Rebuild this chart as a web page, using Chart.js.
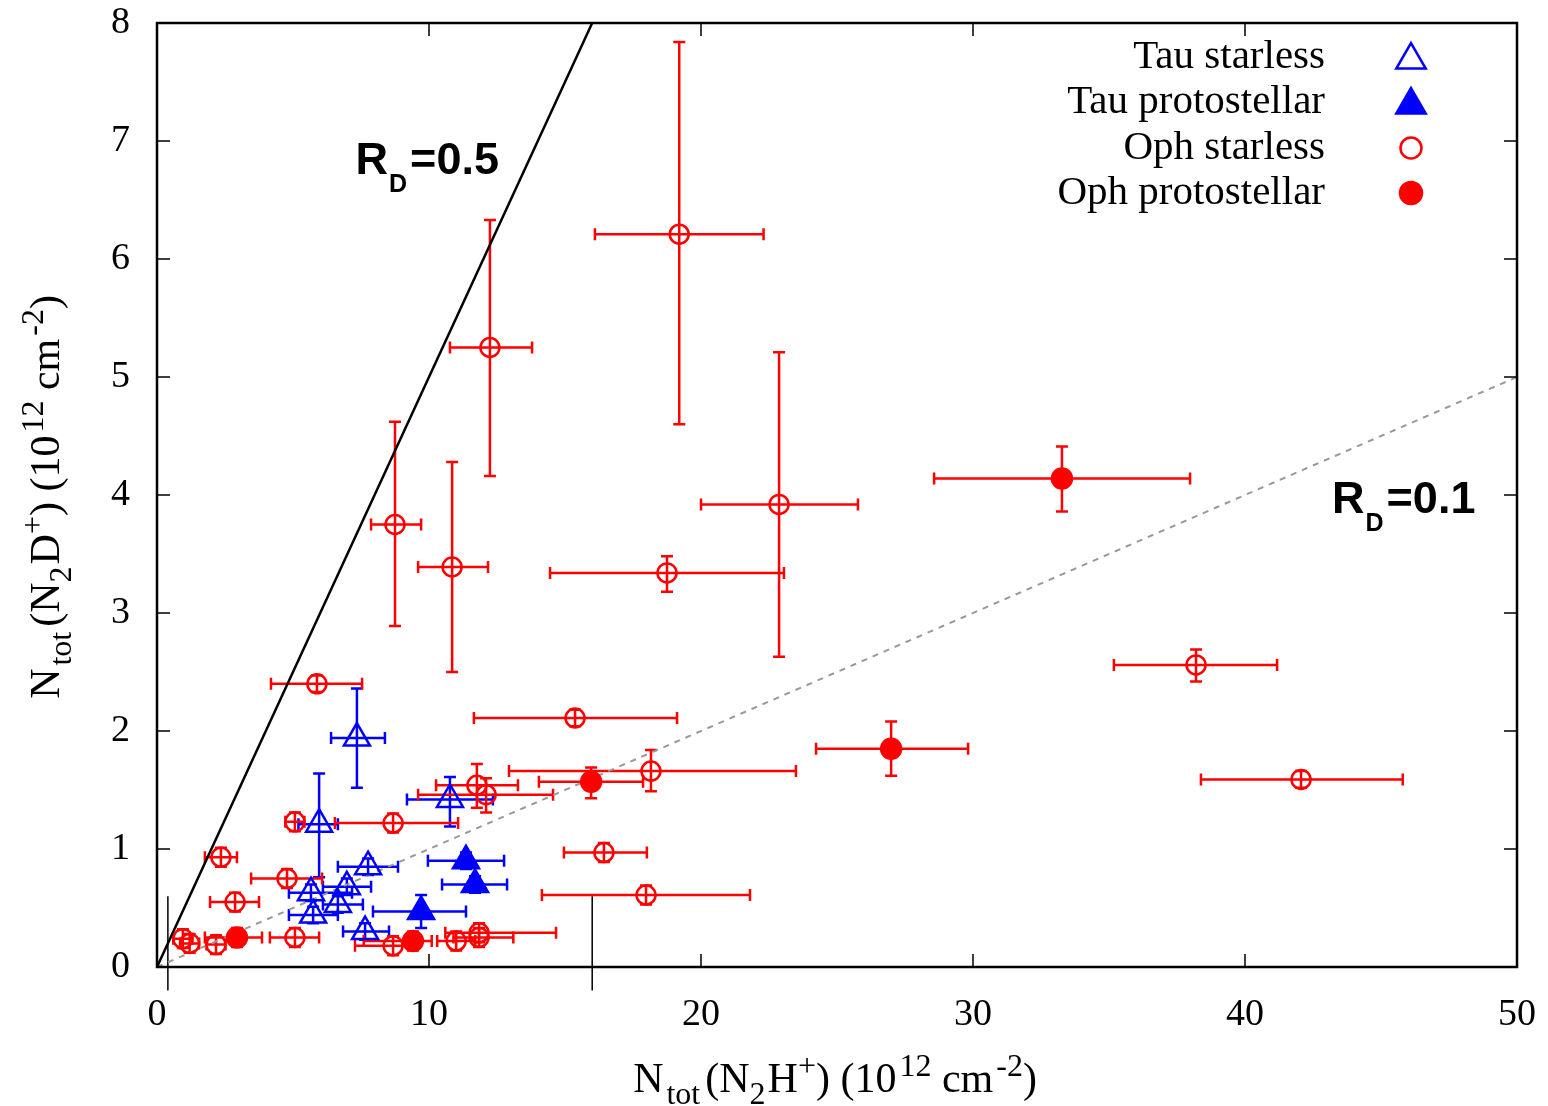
<!DOCTYPE html>
<html>
<head>
<meta charset="utf-8">
<script src="https://cdn.jsdelivr.net/npm/chart.js@4.4.0/dist/chart.umd.min.js"></script>
<style>
  html, body { margin: 0; background: #fff; }
</style>
</head>
<body>
<canvas id="chart" width="1548" height="1106"></canvas>
<script>
// rows: [x, y, xLow, xHigh, yLow, yHigh]  (10^12 cm^-2)
const tauStarless = [
  [7.35, 1.94, 6.4, 8.38, 1.52, 2.36],
  [5.96, 1.21, 5.2, 6.65, 0.76, 1.64],
  [10.77, 1.42, 9.19, 12.35, 1.19, 1.61],
  [7.76, 0.85, 6.65, 8.86, 0.78, 0.92],
  [6.98, 0.68, 6.1, 7.87, 0.61, 0.75],
  [5.66, 0.63, 4.85, 7.17, 0.56, 0.70],
  [6.65, 0.53, 6.1, 7.57, 0.46, 0.60],
  [5.74, 0.44, 4.85, 6.65, 0.37, 0.51],
  [7.65, 0.30, 6.84, 8.53, 0.23, 0.37]
];
const tauProto = [
  [11.36, 0.90, 9.96, 12.76, 0.83, 0.97],
  [11.69, 0.70, 10.48, 12.87, 0.63, 0.77],
  [9.71, 0.47, 7.94, 11.36, 0.33, 0.61]
];
const ophStarless = [
  [19.2, 6.21, 16.1, 22.3, 4.60, 7.84],
  [12.24, 5.25, 10.77, 13.79, 4.16, 6.33],
  [8.75, 3.75, 7.87, 9.71, 2.89, 4.62],
  [10.85, 3.39, 9.6, 12.17, 2.50, 4.28],
  [22.87, 3.92, 20.0, 25.77, 2.63, 5.21],
  [18.75, 3.34, 14.45, 23.05, 3.18, 3.48],
  [38.2, 2.56, 35.18, 41.18, 2.42, 2.69],
  [42.06, 1.59, 38.38, 45.8, 1.52, 1.66],
  [15.37, 2.11, 11.65, 19.12, 2.04, 2.18],
  [5.88, 2.40, 4.19, 7.54, 2.33, 2.47],
  [18.16, 1.66, 12.94, 23.49, 1.49, 1.84],
  [11.76, 1.54, 10.26, 13.27, 1.35, 1.72],
  [12.1, 1.46, 9.6, 14.56, 1.31, 1.60],
  [5.07, 1.23, 4.72, 5.42, 1.15, 1.31],
  [8.68, 1.22, 6.54, 11.07, 1.14, 1.30],
  [2.35, 0.93, 1.76, 2.94, 0.85, 1.01],
  [4.78, 0.75, 3.46, 6.07, 0.67, 0.83],
  [2.87, 0.55, 1.95, 3.75, 0.47, 0.63],
  [16.43, 0.97, 14.96, 18.01, 0.89, 1.05],
  [17.98, 0.61, 14.15, 21.8, 0.53, 0.69],
  [0.95, 0.24, 0.6, 1.3, 0.16, 0.32],
  [1.2, 0.20, 0.85, 1.55, 0.12, 0.28],
  [2.17, 0.19, 1.82, 2.52, 0.11, 0.27],
  [5.07, 0.25, 4.15, 5.96, 0.17, 0.33],
  [8.68, 0.18, 7.28, 9.5, 0.10, 0.26],
  [11.0, 0.22, 10.3, 11.7, 0.14, 0.30],
  [11.84, 0.29, 10.6, 14.67, 0.21, 0.37],
  [11.84, 0.25, 10.9, 13.1, 0.17, 0.33]
];
const ophProto = [
  [33.27, 4.14, 28.57, 37.98, 3.86, 4.41],
  [26.99, 1.85, 24.23, 29.82, 1.62, 2.08],
  [15.96, 1.57, 14.04, 17.87, 1.43, 1.69],
  [2.94, 0.25, 1.76, 3.86, 0.17, 0.33],
  [9.41, 0.22, 7.6, 10.1, 0.14, 0.30]
];

// R_D = N(N2D+)/N(N2H+) reference lines and where their labels sit
const ratioLines = [0.5, 0.1];
const ratioLabels = ['0.5', '0.1'];
const ratioLabelX = [7.3, 43.2];
const ratioLabelY = [6.72, 3.85];

// two short vertical strokes seen in the original
const strayX = [0.4, 16];
const strayY = [0.6, -0.2];

const xMax = 50, yMax = 8;
const xTicks = [0, 10, 20, 30, 40, 50];
const yTicks = [0, 1, 2, 3, 4, 5, 6, 7, 8];

const RED = '#ff0000', BLUE = '#0000ff';
const SERIF = '"Liberation Serif", "DejaVu Serif", serif';
const SANS = '"Liberation Sans", Arial, sans-serif';

function pts(rows){
  return rows.map(r => ({ x:r[0], y:r[1], xlo:r[2], xhi:r[3], ylo:r[4], yhi:r[5] }));
}

const series = [
  { label:'Tau starless', rows:tauStarless, color:BLUE, style:'triangle', filled:false, r:15, lr:17 },
  { label:'Tau protostellar', rows:tauProto, color:BLUE, style:'triangle', filled:true, r:15, lr:17 },
  { label:'Oph starless', rows:ophStarless, color:RED, style:'circle', filled:false, r:9.5, lr:10.5 },
  { label:'Oph protostellar', rows:ophProto, color:RED, style:'circle', filled:true, r:10, lr:11 }
];

const datasets = series.map((s, i) => ({
  label: s.label,
  data: pts(s.rows),
  pointStyle: s.style,
  pointRadius: s.r,
  pointBorderWidth: 2.5,
  borderColor: s.color,
  backgroundColor: s.filled ? s.color : 'rgba(0,0,0,0)',
  errColor: s.color,
  order: 4 - i
}));

ratioLines.forEach((rd, i) => {
  const xEnd = Math.min(xMax, yMax / rd);
  datasets.push({
    label: 'R_D=' + rd,
    data: [{ x:0, y:0 }, { x:xEnd, y:xEnd * rd }],
    showLine: true,
    pointRadius: 0,
    borderColor: i === 0 ? '#000' : '#999',
    borderWidth: i === 0 ? 2.5 : 2,
    borderDash: i === 0 ? [] : [6, 6],
    order: 10
  });
});

strayX.forEach(sx => {
  datasets.push({
    label: 'stray',
    data: [{ x:sx, y:strayY[0] }, { x:sx, y:strayY[1] }],
    showLine: true,
    pointRadius: 0,
    borderColor: '#000',
    borderWidth: 1.5,
    clip: false,
    order: 11
  });
});

// parts: [text, scale, shift (em, + is down), gap after (px)]
function drawRich(ctx, parts, x, y, size, family, weight, align){
  const fontFor = p => `${weight} ${Math.round(size * p[1])}px ${family}`;
  let total = 0;
  parts.forEach(p => { ctx.font = fontFor(p); total += ctx.measureText(p[0]).width + (p[3] || 0); });
  let cx = align === 'center' ? x - total / 2 : (align === 'right' ? x - total : x);
  ctx.textAlign = 'left';
  ctx.textBaseline = 'alphabetic';
  parts.forEach(p => {
    ctx.font = fontFor(p);
    ctx.fillText(p[0], cx, y + p[2] * size);
    cx += ctx.measureText(p[0]).width + (p[3] || 0);
  });
}

function titleParts(mid){
  return [
    ['N', 1, 0, 3], ['tot', 0.75, 0.28, 5], ['(N', 1, 0, 0], ['2', 0.75, 0.28, 2], [mid, 1, 0, 0],
    ['+', 0.75, -0.38, 0], [') (10', 1, 0, 3], ['12', 0.75, -0.38, 0], [' cm', 1, 0, 3],
    ['-2', 0.75, -0.38, 0], [')', 1, 0, 0]
  ];
}

const errorBars = {
  id: 'errorBars',
  beforeDatasetsDraw(chart){
    const { ctx, scales:{ x, y } } = chart;
    const cap = 6;
    ctx.save();
    ctx.lineWidth = 2.5;
    chart.data.datasets.forEach(ds => {
      if (!ds.errColor) return;
      ctx.strokeStyle = ds.errColor;
      ds.data.forEach(p => {
        const px = x.getPixelForValue(p.x), py = y.getPixelForValue(p.y);
        const x1 = x.getPixelForValue(p.xlo), x2 = x.getPixelForValue(p.xhi);
        const y1 = y.getPixelForValue(p.ylo), y2 = y.getPixelForValue(p.yhi);
        ctx.beginPath();
        ctx.moveTo(x1, py); ctx.lineTo(x2, py);
        ctx.moveTo(x1, py - cap); ctx.lineTo(x1, py + cap);
        ctx.moveTo(x2, py - cap); ctx.lineTo(x2, py + cap);
        ctx.moveTo(px, y1); ctx.lineTo(px, y2);
        ctx.moveTo(px - cap, y1); ctx.lineTo(px + cap, y1);
        ctx.moveTo(px - cap, y2); ctx.lineTo(px + cap, y2);
        ctx.stroke();
      });
    });
    ctx.restore();
  }
};

const decor = {
  id: 'decor',
  afterDraw(chart){
    const { ctx, chartArea:a, scales:{ x, y } } = chart;
    ctx.save();
    // inward ticks on all four sides
    ctx.strokeStyle = '#000';
    ctx.lineWidth = 1.5;
    const tl = 13;
    xTicks.forEach(v => {
      const px = x.getPixelForValue(v);
      ctx.beginPath();
      ctx.moveTo(px, a.bottom); ctx.lineTo(px, a.bottom - tl);
      ctx.moveTo(px, a.top); ctx.lineTo(px, a.top + tl);
      ctx.stroke();
    });
    yTicks.forEach(v => {
      const py = y.getPixelForValue(v);
      ctx.beginPath();
      ctx.moveTo(a.left, py); ctx.lineTo(a.left + tl, py);
      ctx.moveTo(a.right, py); ctx.lineTo(a.right - tl, py);
      ctx.stroke();
    });
    ctx.lineWidth = 2.5;
    ctx.strokeRect(a.left, a.top, a.right - a.left, a.bottom - a.top);

    // ratio labels
    ctx.fillStyle = '#000';
    ratioLabels.forEach((t, i) => {
      drawRich(ctx, [['R', 1, 0, 1], ['D', 0.56, 0.4, 3], ['=' + t, 1, 0, 0]],
        x.getPixelForValue(ratioLabelX[i]), y.getPixelForValue(ratioLabelY[i]), 45, SANS, 'bold', 'left');
    });

    // legend
    const rowY = [57, 102, 148, 193];
    series.forEach((s, i) => {
      ctx.fillStyle = '#000';
      ctx.font = `41px ${SERIF}`;
      ctx.textAlign = 'right';
      ctx.textBaseline = 'middle';
      ctx.fillText(s.label, 1325, rowY[i]);
      ctx.strokeStyle = s.color;
      ctx.fillStyle = s.filled ? s.color : 'rgba(0,0,0,0)';
      ctx.lineWidth = 2.5;
      Chart.helpers.drawPoint(ctx, { pointStyle:s.style, radius:s.lr, borderWidth:2.5, rotation:0 }, 1411, rowY[i] + (s.style === 'triangle' ? 3 : 0));
    });

    // axis titles
    ctx.fillStyle = '#000';
    drawRich(ctx, titleParts('H'), 835, 1092, 42, SERIF, 'normal', 'center');
    ctx.translate(59, 497);
    ctx.rotate(-Math.PI / 2);
    drawRich(ctx, titleParts('D'), 0, 0, 42, SERIF, 'normal', 'center');
    ctx.restore();
  }
};

new Chart(document.getElementById('chart'), {
  type: 'scatter',
  data: { datasets },
  options: {
    responsive: false,
    animation: false,
    layout: { padding: { left:0, top:23, right:31, bottom:0 } },
    plugins: { legend:{ display:false }, tooltip:{ enabled:false } },
    scales: {
      x: {
        min: 0, max: xMax,
        afterBuildTicks: s => { s.ticks = xTicks.map(v => ({ value:v })); },
        afterFit: s => { s.height = 139; s.paddingLeft = 0; s.paddingRight = 0; },
        grid: { display:false, drawTicks:false },
        border: { display:false },
        ticks: { color:'#000', padding:25, maxRotation:0, font:{ family:SERIF, size:38 } }
      },
      y: {
        min: 0, max: yMax,
        afterBuildTicks: s => { s.ticks = yTicks.map(v => ({ value:v })); },
        afterFit: s => { s.width = 157; s.paddingTop = 0; s.paddingBottom = 0; },
        grid: { display:false, drawTicks:false },
        border: { display:false },
        ticks: { color:'#000', padding:27, font:{ family:SERIF, size:38 } }
      }
    }
  },
  plugins: [errorBars, decor]
});
</script>
</body>
</html>
